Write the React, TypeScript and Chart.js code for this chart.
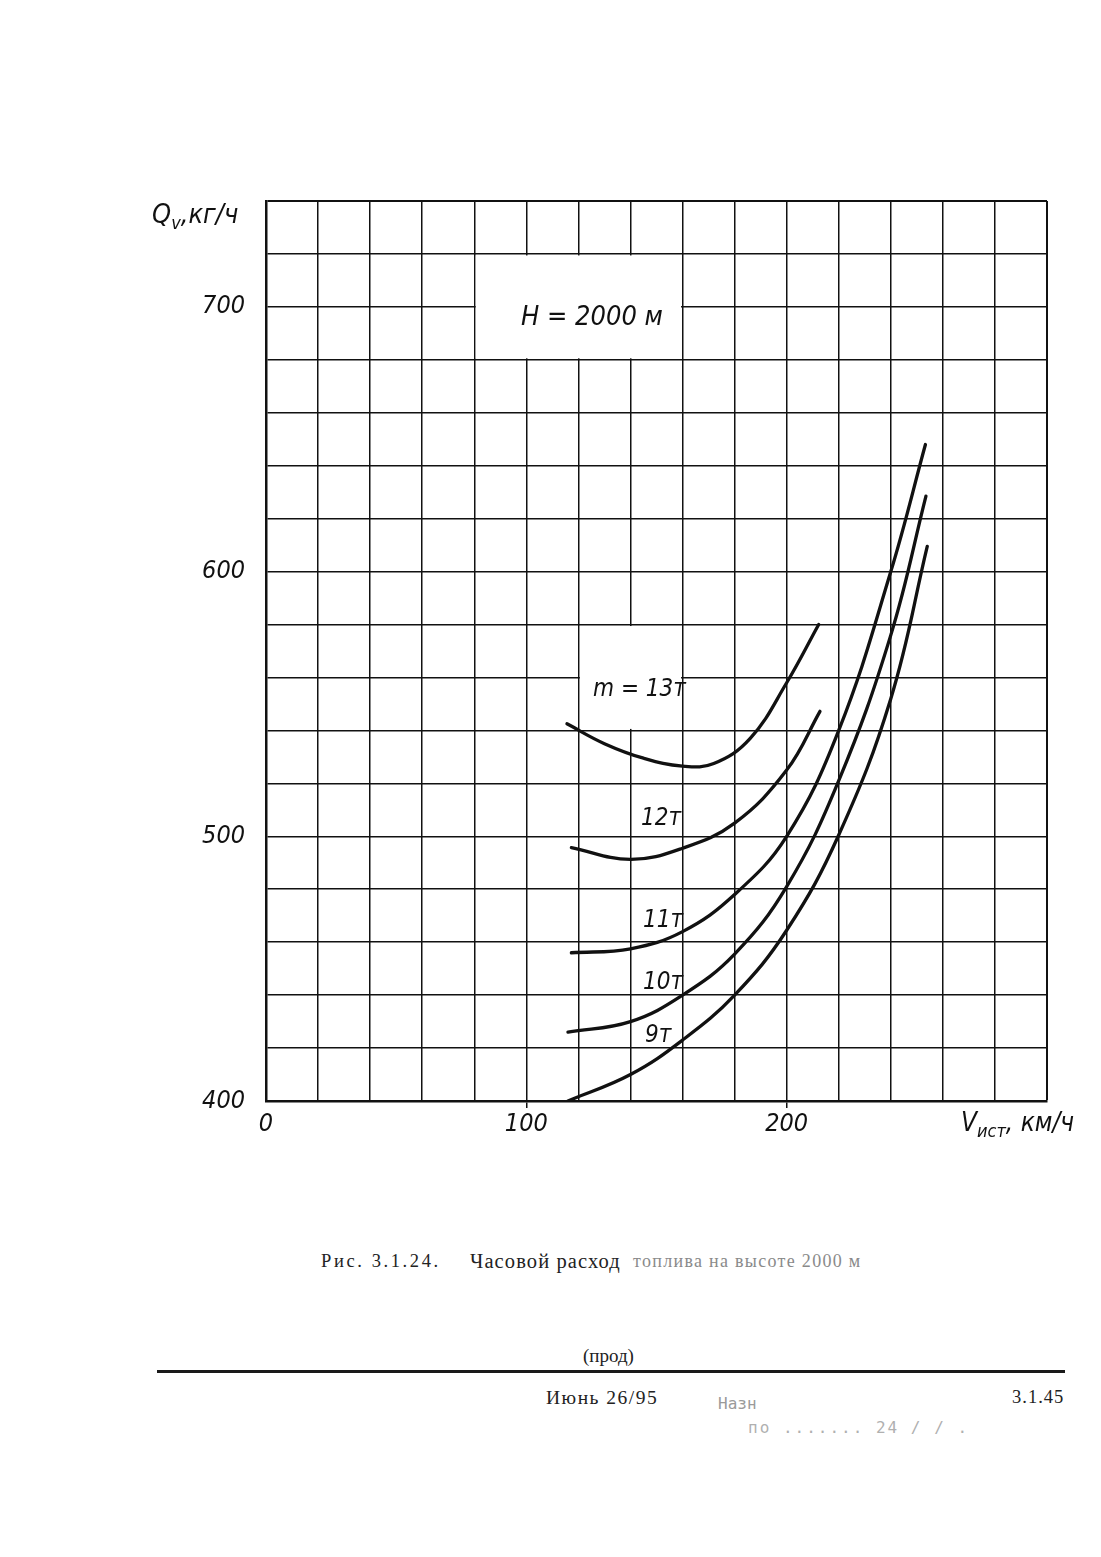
import React, { useEffect, useRef } from "react";
import { Chart, registerables } from "chart.js";

Chart.register(...registerables);

// ---- data ----
const xMin = 0;
const xMax = 300;
const xStep = 20;
const yMin = 400;
const yMax = 740;
const yStep = 20;
const xLabeled = [0, 100, 200];
const yLabeled = [400, 500, 600, 700];

const seriesNames = ["13т", "12т", "11т", "10т", "9т"];

const v13 = [115.6, 130, 145, 160, 172, 186, 200, 212.3];
const q13 = [542.5, 535, 529.5, 526.5, 527.5, 537, 558, 580];

const v12 = [117.3, 140, 160, 180, 200, 212.8];
const q12 = [495.7, 491.3, 495.5, 505, 525, 547.2];

const v11 = [117.3, 140, 160, 180, 200, 220, 240, 253.3];
const q11 = [456, 457.5, 464, 478, 500, 540, 600, 648];

const v10 = [116, 140, 160, 180, 200, 220, 240, 253.5];
const q10 = [426, 430, 440, 455.5, 481, 521, 576, 628.5];

const v9 = [116, 140, 160, 180, 200, 220, 240, 254];
const q9 = [400, 410, 423, 440, 464.5, 500.5, 552, 609.5];

// white label panels in data units: [x0, x1, y0, y1]
const labelBoxes = [
  [80, 160, 680, 720],
  [120, 160, 540, 580],
];

const HAND = '"Liberation Sans Narrow", "DejaVu Sans Condensed", "Liberation Sans", sans-serif';
const SERIF = '"Liberation Serif", "DejaVu Serif", serif';

const toPoints = (xs: number[], ys: number[]) => xs.map((x, i) => ({ x, y: ys[i] }));

const whiteBoxes = {
  id: "whiteBoxes",
  beforeDatasetsDraw(chart: any) {
    const { ctx, scales } = chart;
    const sx = scales.x;
    const sy = scales.y;
    ctx.save();
    ctx.fillStyle = "#ffffff";
    for (const b of labelBoxes) {
      const l = sx.getPixelForValue(b[0]) + 1.5;
      const r = sx.getPixelForValue(b[1]) - 1.5;
      const t = sy.getPixelForValue(b[3]) + 1.5;
      const btm = sy.getPixelForValue(b[2]) - 1.5;
      ctx.fillRect(l, t, r - l, btm - t);
    }
    ctx.restore();
  },
};

function FuelChart() {
  const ref = useRef<HTMLCanvasElement | null>(null);
  useEffect(() => {
    if (!ref.current) return;
    const series = [
      toPoints(v13, q13),
      toPoints(v12, q12),
      toPoints(v11, q11),
      toPoints(v10, q10),
      toPoints(v9, q9),
    ];
    const chart = new Chart(ref.current, {
      type: "line",
      data: {
        datasets: series.map((pts, i) => ({
          label: seriesNames[i],
          data: pts,
          borderColor: "#111",
          borderWidth: 3.3,
          pointRadius: 0,
          fill: false,
          tension: 0.4,
          borderCapStyle: "round" as const,
        })),
      },
      options: {
        animation: false,
        responsive: false,
        devicePixelRatio: 1,
        layout: { padding: { top: 51, right: 53, left: 0, bottom: 0 } },
        plugins: { legend: { display: false }, tooltip: { enabled: false } },
        scales: {
          x: {
            type: "linear",
            min: xMin,
            max: xMax,
            afterFit: (s: any) => {
              s.height = 99;
            },
            ticks: {
              stepSize: xStep,
              autoSkip: false,
              maxRotation: 0,
              padding: 1,
              color: "#111",
              font: { family: HAND, size: 25, style: "italic" },
              callback: (v: any) => (xLabeled.includes(Number(v)) ? String(v) : ""),
            },
            grid: {
              color: "#111",
              lineWidth: (c: any) => (c.tick && c.tick.value === xMax ? 2 : 1.5),
              drawTicks: true,
              tickLength: 7,
              tickColor: (c: any) =>
                c.tick && (c.tick.value === 100 || c.tick.value === 200) ? "#111" : "rgba(0,0,0,0)",
            },
            border: { display: true, color: "#111", width: 2.5 },
          },
          y: {
            type: "linear",
            min: yMin,
            max: yMax,
            afterFit: (s: any) => {
              s.width = 166;
            },
            ticks: {
              stepSize: yStep,
              autoSkip: false,
              padding: 21,
              color: "#111",
              font: { family: HAND, size: 25, style: "italic" },
              callback: (v: any) => (yLabeled.includes(Number(v)) ? String(v) : ""),
            },
            grid: {
              color: "#111",
              lineWidth: (c: any) => (c.tick && c.tick.value === yMax ? 2 : 1.5),
              drawTicks: false,
            },
            border: { display: true, color: "#111", width: 2.5 },
          },
        },
      },
      plugins: [whiteBoxes],
    });
    return () => chart.destroy();
  }, []);
  return (
    <canvas
      ref={ref}
      width={1000}
      height={1050}
      style={{ position: "absolute", left: 100, top: 150, width: 1000, height: 1050 }}
    />
  );
}

const hand: React.CSSProperties = {
  position: "absolute",
  fontFamily: HAND,
  fontStyle: "italic",
  color: "#111",
  whiteSpace: "nowrap",
  lineHeight: 1,
};

const serif: React.CSSProperties = {
  position: "absolute",
  fontFamily: SERIF,
  color: "#222",
  whiteSpace: "nowrap",
  lineHeight: 1,
};

export default function App() {
  return (
    <div
      style={{
        position: "absolute",
        left: 0,
        top: 0,
        width: 1101,
        height: 1557,
        background: "#fff",
        overflow: "hidden",
      }}
    >
      <FuelChart />
      <div style={{ ...hand, left: 152, top: 200, fontSize: 27 }}>
        Q<sub style={{ fontSize: 18, verticalAlign: "-6px" }}>v</sub>,кг/ч
      </div>
      <div style={{ ...hand, left: 521, top: 302, fontSize: 27 }}>H = 2000 м</div>
      <div style={{ ...hand, left: 593, top: 676, fontSize: 24 }}>m = 13т</div>
      <div style={{ ...hand, left: 641, top: 805, fontSize: 24 }}>12т</div>
      <div style={{ ...hand, left: 643, top: 907, fontSize: 24 }}>11т</div>
      <div style={{ ...hand, left: 643, top: 969, fontSize: 24 }}>10т</div>
      <div style={{ ...hand, left: 645, top: 1022, fontSize: 24 }}>9т</div>
      <div style={{ ...hand, left: 961, top: 1109, fontSize: 26 }}>
        V<sub style={{ fontSize: 18, verticalAlign: "-6px" }}>ист</sub>, км/ч
      </div>

      <div style={{ ...serif, left: 321, top: 1252, fontSize: 18.5, letterSpacing: "2.6px" }}>
        Рис. 3.1.24.
      </div>
      <div style={{ ...serif, left: 470, top: 1251, fontSize: 20.5, letterSpacing: "1.1px" }}>
        Часовой расход
      </div>
      <div style={{ ...serif, left: 633, top: 1252, fontSize: 18, letterSpacing: "1.3px", color: "#8a8a8a" }}>
        топлива на высоте 2000 м
      </div>

      <div style={{ ...serif, left: 583, top: 1346, fontSize: 19 }}>(прод)</div>
      <div
        style={{ position: "absolute", left: 157, top: 1370, width: 908, height: 3, background: "#1a1a1a" }}
      />
      <div style={{ ...serif, left: 546, top: 1388, fontSize: 19.5, letterSpacing: "1.5px" }}>Июнь 26/95</div>
      <div style={{ ...serif, left: 1012, top: 1388, fontSize: 18.5, letterSpacing: "1px" }}>3.1.45</div>
      <div
        style={{
          ...serif,
          left: 718,
          top: 1396,
          fontSize: 16,
          color: "#9a9a9a",
          fontFamily: '"DejaVu Sans Mono", monospace',
        }}
      >
        Назн
      </div>
      <div
        style={{
          ...serif,
          left: 748,
          top: 1420,
          fontSize: 16,
          color: "#b0b0b0",
          fontFamily: '"DejaVu Sans Mono", monospace',
          letterSpacing: "2px",
        }}
      >
        по ....... 24 / / .
      </div>
    </div>
  );
}
